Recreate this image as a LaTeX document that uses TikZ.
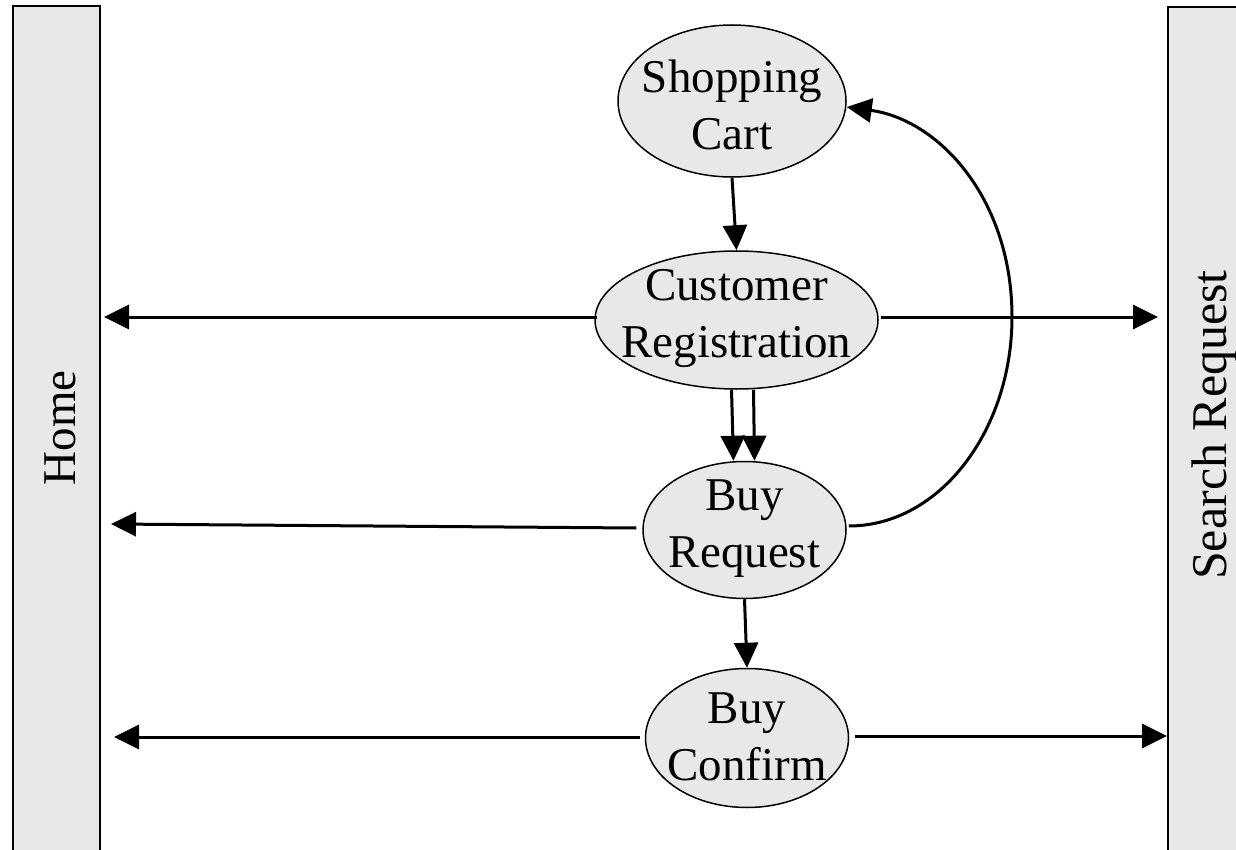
\documentclass[tikz,border=0pt]{standalone}
\usepackage{fontspec}
\setmainfont{Liberation Serif}
\usetikzlibrary{shapes.geometric,arrows.meta,calc}
\definecolor{boxgray}{RGB}{232,232,232}
\begin{document}
\begin{tikzpicture}[x=1pt,y=-1pt,
  lbl/.style={font=\fontsize{47pt}{57pt}\selectfont, align=center, inner sep=0pt},
  state/.style={ellipse, draw, line width=1.5pt, fill=boxgray, inner sep=0pt},
  bar/.style={rectangle, draw, line width=2pt, fill=boxgray, inner sep=0pt},
  arr/.style={line width=3pt, -{Triangle[length=25pt,width=24pt]}},
]
\useasboundingbox (0,0) rectangle (1236,850);
\clip (0,0) rectangle (1236,850);

% side bars
\node[bar, minimum width=87pt, minimum height=860pt] (home) at (56.5,436) {};
\node[lbl, rotate=90] (homet) at (60,428) {Home};
\node[bar, minimum width=94pt, minimum height=860pt] (search) at (1215,437) {};
\node[lbl, rotate=90, font=\fontsize{50pt}{60pt}\selectfont] (searcht) at (1214,425) {Search Request};

% states
\node[state, minimum width=228pt, minimum height=152pt] (cart) at (732,101) {};
\node[lbl] (cartt) at (732,105) {Shopping\\Cart};
\node[state, minimum width=283pt, minimum height=138pt] (reg) at (736.5,320) {};
\node[lbl] (regt) at (736.5,319) {Customer\\Registration};
\node[state, minimum width=203pt, minimum height=137pt] (req) at (744.5,530) {};
\node[lbl] (reqt) at (744.5,529) {Buy\\Request};
\node[state, minimum width=203pt, minimum height=139pt] (conf) at (747,738) {};
\node[lbl] (conft) at (747,737) {Buy\\Confirm};

% vertical flow
\draw[arr] (cart.south) -- (reg.north);
\draw[arr] ([xshift=-5pt]reg.south) -- ([xshift=-11pt]req.north);
\draw[arr] ([xshift=17pt]reg.south) -- ([xshift=10pt]req.north);
\draw[arr] (req.south) -- (conf.north);

% to Home
\draw[arr] ($(reg.west)+(3,-3)$) -- ($(reg.west -| home.east)+(3,-3)$);
\draw[arr] ($(req.west)+(-6,-2)$) -- ($(req.west -| home.east)+(10,-6)$);
\draw[arr] ($(conf.west)+(-5,-1)$) -- ($(conf.west -| home.east)+(13,-1)$);

% to Search Request
\draw[arr] ($(reg.east)+(2,-3)$) -- ($(reg.east -| search.west)+(-9,-3)$);
\draw[arr] ($(conf.east)+(6,-2)$) -- ($(conf.east -| search.west)+(0,-2)$);

% back to shopping cart
\draw[arr] ($(req.east)+(2,-4)$) .. controls (940,526) and (1012,430) .. (1012,317)
  .. controls (1012,200) and (940,120) .. ($(cart.east)+(0,6)$);
\end{tikzpicture}
\end{document}
